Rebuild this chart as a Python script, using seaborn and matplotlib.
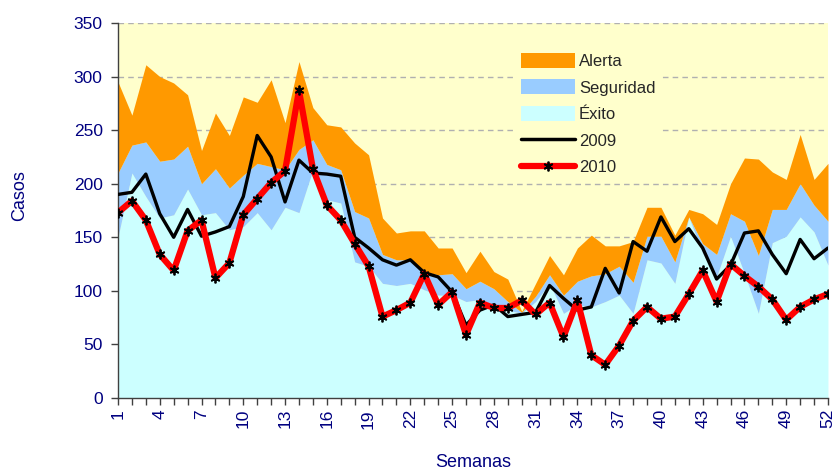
import pandas as pd
import matplotlib
matplotlib.use("Agg")
import matplotlib.pyplot as plt
from matplotlib.patches import Patch
from matplotlib.lines import Line2D
from matplotlib.ticker import MultipleLocator
import seaborn as sns

# --- Data ---
semanas = list(range(1, 53))

exito = [150, 210, 188, 168, 171, 195, 171, 173, 157, 160,
         173, 157, 178, 173, 213, 185, 182, 127, 123, 107,
         105, 107, 101, 96, 96, 90, 92, 87, 82, 79,
         90, 107, 79, 87, 85, 90, 96, 79, 129, 126,
         107, 169, 135, 113, 151, 116, 79, 145, 151, 169, 155, 124]

seguridad = [210, 236, 239, 221, 223, 235, 200, 214, 196, 208,
             219, 216, 213, 232, 241, 218, 213, 174, 168, 134,
             129, 129, 118, 115, 116, 102, 109, 102, 90, 80,
             95, 115, 96, 109, 114, 116, 123, 108, 151, 151,
             127, 169, 144, 134, 172, 165, 133, 176, 176, 200, 180, 165]

alerta = [295, 264, 311, 300, 294, 283, 231, 266, 245, 281,
          276, 297, 257, 314, 271, 255, 253, 238, 227, 168,
          154, 156, 156, 140, 140, 117, 137, 118, 111, 81,
          107, 133, 115, 140, 152, 142, 142, 146, 178, 178,
          152, 176, 172, 162, 200, 224, 223, 211, 204, 246, 204, 219]

casos_2009 = [190, 192, 209, 172, 150, 176, 151, 155, 160, 188,
              245, 225, 183, 222, 210, 209, 207, 150, 140, 129,
              124, 129, 117, 113, 99, 68, 82, 87, 76, 78,
              80, 105, 93, 82, 85, 121, 98, 146, 137, 169,
              146, 158, 140, 111, 124, 154, 156, 134, 116, 148, 130, 140]

casos_2010 = [173, 184, 166, 134, 119, 156, 166, 112, 126, 171,
              186, 201, 212, 287, 214, 180, 166, 144, 123, 76,
              82, 89, 116, 87, 99, 59, 89, 84, 84, 91,
              78, 89, 57, 91, 40, 31, 49, 72, 85, 74,
              76, 97, 119, 90, 125, 114, 104, 92, 73, 85, 92, 97]

df = pd.DataFrame({
    'Semana': semanas,
    'Exito': exito,
    'Seguridad': seguridad,
    'Alerta': alerta,
    '2009': casos_2009,
    '2010': casos_2010,
})

# --- Style ---
sns.set_style("white")
plt.rcParams['font.family'] = ['Liberation Sans', 'DejaVu Sans']

navy = '#000080'
c_epidemia = '#FFFFCC'
c_alerta = '#FF9900'
c_seguridad = '#99CCFF'
c_exito = '#CCFFFF'

fig = plt.figure(figsize=(8.35, 4.75), dpi=100)
ax = fig.add_axes([0.1413, 0.1621, 0.8503, 0.7895])
ax.set_facecolor(c_epidemia)

# endemic channel zones
ax.fill_between(df['Semana'], 0, df['Exito'], color=c_exito, linewidth=0, zorder=1)
ax.fill_between(df['Semana'], df['Exito'], df['Seguridad'], color=c_seguridad, linewidth=0, zorder=1)
ax.fill_between(df['Semana'], df['Seguridad'], df['Alerta'], color=c_alerta, linewidth=0, zorder=1)

# yearly curves
sns.lineplot(data=df, x='Semana', y='2009', color='black', linewidth=2.4, ax=ax, zorder=3)
sns.lineplot(data=df, x='Semana', y='2010', color='red', linewidth=4.5, ax=ax, zorder=4,
             marker=(6, 2, 0), markersize=7, markeredgecolor='black', markerfacecolor='black',
             markeredgewidth=1.3)

# axes
ax.set_xlim(1, 52)
ax.set_ylim(0, 350)
ax.yaxis.set_major_locator(MultipleLocator(50))
ax.set_xticks(list(range(1, 53, 3)))
ax.xaxis.set_minor_locator(MultipleLocator(1))
ax.tick_params(axis='x', which='major', rotation=90, labelsize=12.5, labelcolor=navy,
               direction='out', length=5, width=1, color='#404040', bottom=True, pad=3)
ax.tick_params(axis='x', which='minor', direction='out', length=5, width=1, color='#404040', bottom=True)
ax.tick_params(axis='y', labelsize=12.5, labelcolor=navy, direction='out', length=5,
               width=1, color='#404040', left=True, pad=6)

for s in ['top', 'right']:
    ax.spines[s].set_visible(False)
for s in ['left', 'bottom']:
    ax.spines[s].set_color('#404040')
    ax.spines[s].set_linewidth(1)

# horizontal dashed grid, under the zones
ax.grid(True, axis='y', which='major', linestyle=(0, (4, 3)), color='#B0B0B0', linewidth=1)
ax.set_axisbelow(True)

ax.set_xlabel('Semanas', color=navy, fontsize=13, labelpad=18)
ax.set_ylabel('Casos', color=navy, fontsize=13)
ax.yaxis.set_label_coords(-0.127, 0.54)

# legend
handles = [
    Patch(facecolor=c_alerta, edgecolor='none'),
    Patch(facecolor=c_seguridad, edgecolor='none'),
    Patch(facecolor=c_exito, edgecolor='none'),
    Line2D([], [], color='black', linewidth=2.5),
    Line2D([], [], color='red', linewidth=4.5, marker=(6, 2, 0), markersize=7,
           markeredgecolor='black', markerfacecolor='black', markeredgewidth=1.3),
]
labels = ['Alerta', 'Seguridad', 'Éxito', '2009', '2010']
leg = ax.legend(handles, labels, loc='upper left', bbox_to_anchor=(0.547, 0.96),
                fontsize=12, frameon=True, facecolor=c_epidemia, edgecolor='none',
                framealpha=1, handlelength=3.2, handleheight=1.0, labelspacing=0.62,
                handletextpad=0.25, borderpad=0.4, fancybox=False)
leg.set_zorder(5)

fig.savefig('out.png', dpi=100, facecolor='white')
